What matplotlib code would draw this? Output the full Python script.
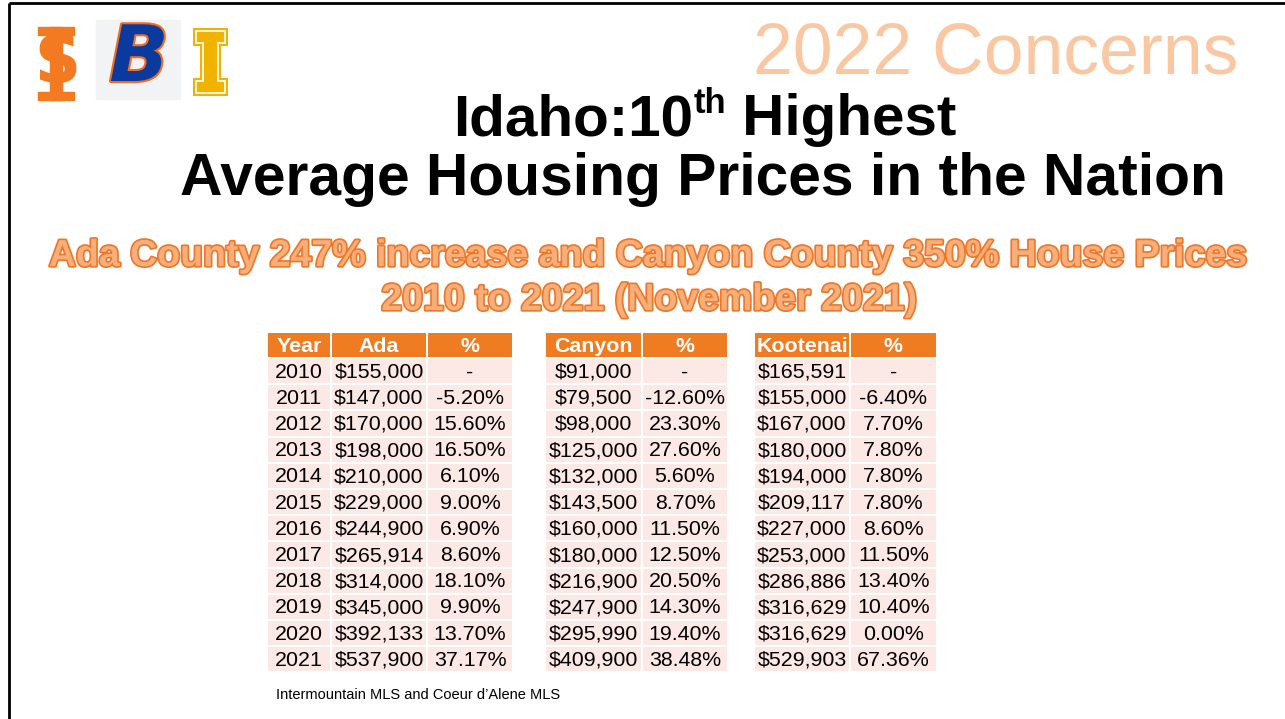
import matplotlib
matplotlib.use("Agg")
import matplotlib.pyplot as plt
import matplotlib.patheffects as pe
from matplotlib.patches import Rectangle, Polygon

plt.rcParams['font.family'] = ['Liberation Sans', 'DejaVu Sans']

# table data
years = ["2010", "2011", "2012", "2013", "2014", "2015",
         "2016", "2017", "2018", "2019", "2020", "2021"]
ada = ["$155,000", "$147,000", "$170,000", "$198,000", "$210,000", "$229,000",
       "$244,900", "$265,914", "$314,000", "$345,000", "$392,133", "$537,900"]
ada_pct = ["-", "-5.20%", "15.60%", "16.50%", "6.10%", "9.00%",
           "6.90%", "8.60%", "18.10%", "9.90%", "13.70%", "37.17%"]
canyon = ["$91,000", "$79,500", "$98,000", "$125,000", "$132,000", "$143,500",
          "$160,000", "$180,000", "$216,900", "$247,900", "$295,990", "$409,900"]
canyon_pct = ["-", "-12.60%", "23.30%", "27.60%", "5.60%", "8.70%",
              "11.50%", "12.50%", "20.50%", "14.30%", "19.40%", "38.48%"]
kootenai = ["$165,591", "$155,000", "$167,000", "$180,000", "$194,000", "$209,117",
            "$227,000", "$253,000", "$286,886", "$316,629", "$316,629", "$529,903"]
kootenai_pct = ["-", "-6.40%", "7.70%", "7.80%", "7.80%", "7.80%",
                "8.60%", "11.50%", "13.40%", "10.40%", "0.00%", "67.36%"]

HEAD = "#F07C22"
ROW = "#FCE8E4"

fig = plt.figure(figsize=(12.85, 7.19), dpi=100)
ax = fig.add_axes([0, 0, 1, 1])
ax.set_xlim(0, 1285)
ax.set_ylim(719, 0)
ax.axis("off")

# slide border (top + left)
ax.plot([9, 1285], [3, 3], color="black", lw=2, solid_capstyle="butt")
ax.plot([9, 9], [3, 719], color="black", lw=2, solid_capstyle="butt")

# --- logos (rough) ---
# Idaho State "IS"
ax.add_patch(Rectangle((38, 27), 36, 8, color="#F37A20"))
ax.add_patch(Rectangle((50, 27), 12, 73, color="#F37A20"))
ax.add_patch(Rectangle((38, 92), 36, 8, color="#F37A20"))
ax.text(57, 64, "S", fontsize=46, fontweight="bold", color="#F37A20",
        ha="center", va="center", family="DejaVu Sans")
# Boise State "B"
ax.add_patch(Rectangle((96, 20), 84, 79, color="#F2F3F5"))
ax.text(139, 59, "B", fontsize=56, fontweight="bold", style="italic",
        color="#0A3A9E", ha="center", va="center", family="DejaVu Sans",
        path_effects=[pe.withStroke(linewidth=3, foreground="#F26B21")])
# U of Idaho "I"
i_outer = [(193, 28), (228, 28), (228, 46), (221, 46), (221, 78), (228, 78),
           (228, 96), (193, 96), (193, 78), (200, 78), (200, 46), (193, 46)]
i_inner = [(196, 31), (225, 31), (225, 43), (218, 43), (218, 81), (225, 81),
           (225, 93), (196, 93), (196, 81), (203, 81), (203, 43), (196, 43)]
ax.add_patch(Polygon(i_outer, closed=True, color="#F1B300", lw=0))
ax.add_patch(Polygon(i_inner, closed=True, fill=False, ec="white", lw=1.2))

# --- headings ---
ax.text(1238, 73, "2022 Concerns", fontsize=51.5, color="#F9C8A2",
        ha="right", va="baseline")

fig.canvas.draw()
r = fig.canvas.get_renderer()
parts = [("Idaho:10", 42, 0), ("th", 25, -22), (" Highest", 42, 0)]
objs = []
for s, fs, dy in parts:
    objs.append(ax.text(0, 135 + dy, s, fontsize=fs, fontweight="bold",
                        color="black", va="baseline", ha="left"))
widths = [o.get_window_extent(r).width for o in objs]
x = 705 - sum(widths) / 2
for o, w in zip(objs, widths):
    o.set_x(x)
    x += w
ax.text(703, 195, "Average Housing Prices in the Nation", fontsize=42.3,
        fontweight="bold", color="black", ha="center", va="baseline")

sub_fx = [pe.withStroke(linewidth=2.4, foreground="#EE7626")]
ax.text(648, 266, "Ada County 247% increase and Canyon County 350% House Prices",
        fontsize=27, fontweight="bold", color="#F6AE7A", ha="center",
        va="baseline", path_effects=sub_fx)
ax.text(649, 310, "2010 to 2021 (November 2021)", fontsize=27,
        fontweight="bold", color="#F6AE7A", ha="center", va="baseline",
        path_effects=sub_fx)

# --- tables ---
head_top, head_h = 333, 24
row_top, pitch, cell_h = 359, 26.2, 24.2


def draw_col(x0, x1, header, values):
    ax.add_patch(Rectangle((x0, head_top), x1 - x0, head_h, color=HEAD, lw=0))
    ax.text((x0 + x1) / 2, head_top + head_h / 2 + 1, header, fontsize=15.4,
            fontweight="bold", color="white", ha="center", va="center")
    for i, v in enumerate(values):
        y = row_top + i * pitch
        ax.add_patch(Rectangle((x0, y), x1 - x0, cell_h, color=ROW, lw=0))
        ax.text((x0 + x1) / 2, y + cell_h / 2 + 1, v, fontsize=15.4,
                color="black", ha="center", va="center")


draw_col(268, 330, "Year", years)
draw_col(332, 426, "Ada", ada)
draw_col(428, 512, "%", ada_pct)
draw_col(546, 641, "Canyon", canyon)
draw_col(643, 727, "%", canyon_pct)
draw_col(755, 849, "Kootenai", kootenai)
draw_col(851, 936, "%", kootenai_pct)

ax.text(276, 699, "Intermountain MLS and Coeur d\u2019Alene MLS", fontsize=10.5,
        color="black", ha="left", va="baseline")

fig.savefig("out.png", dpi=100)
